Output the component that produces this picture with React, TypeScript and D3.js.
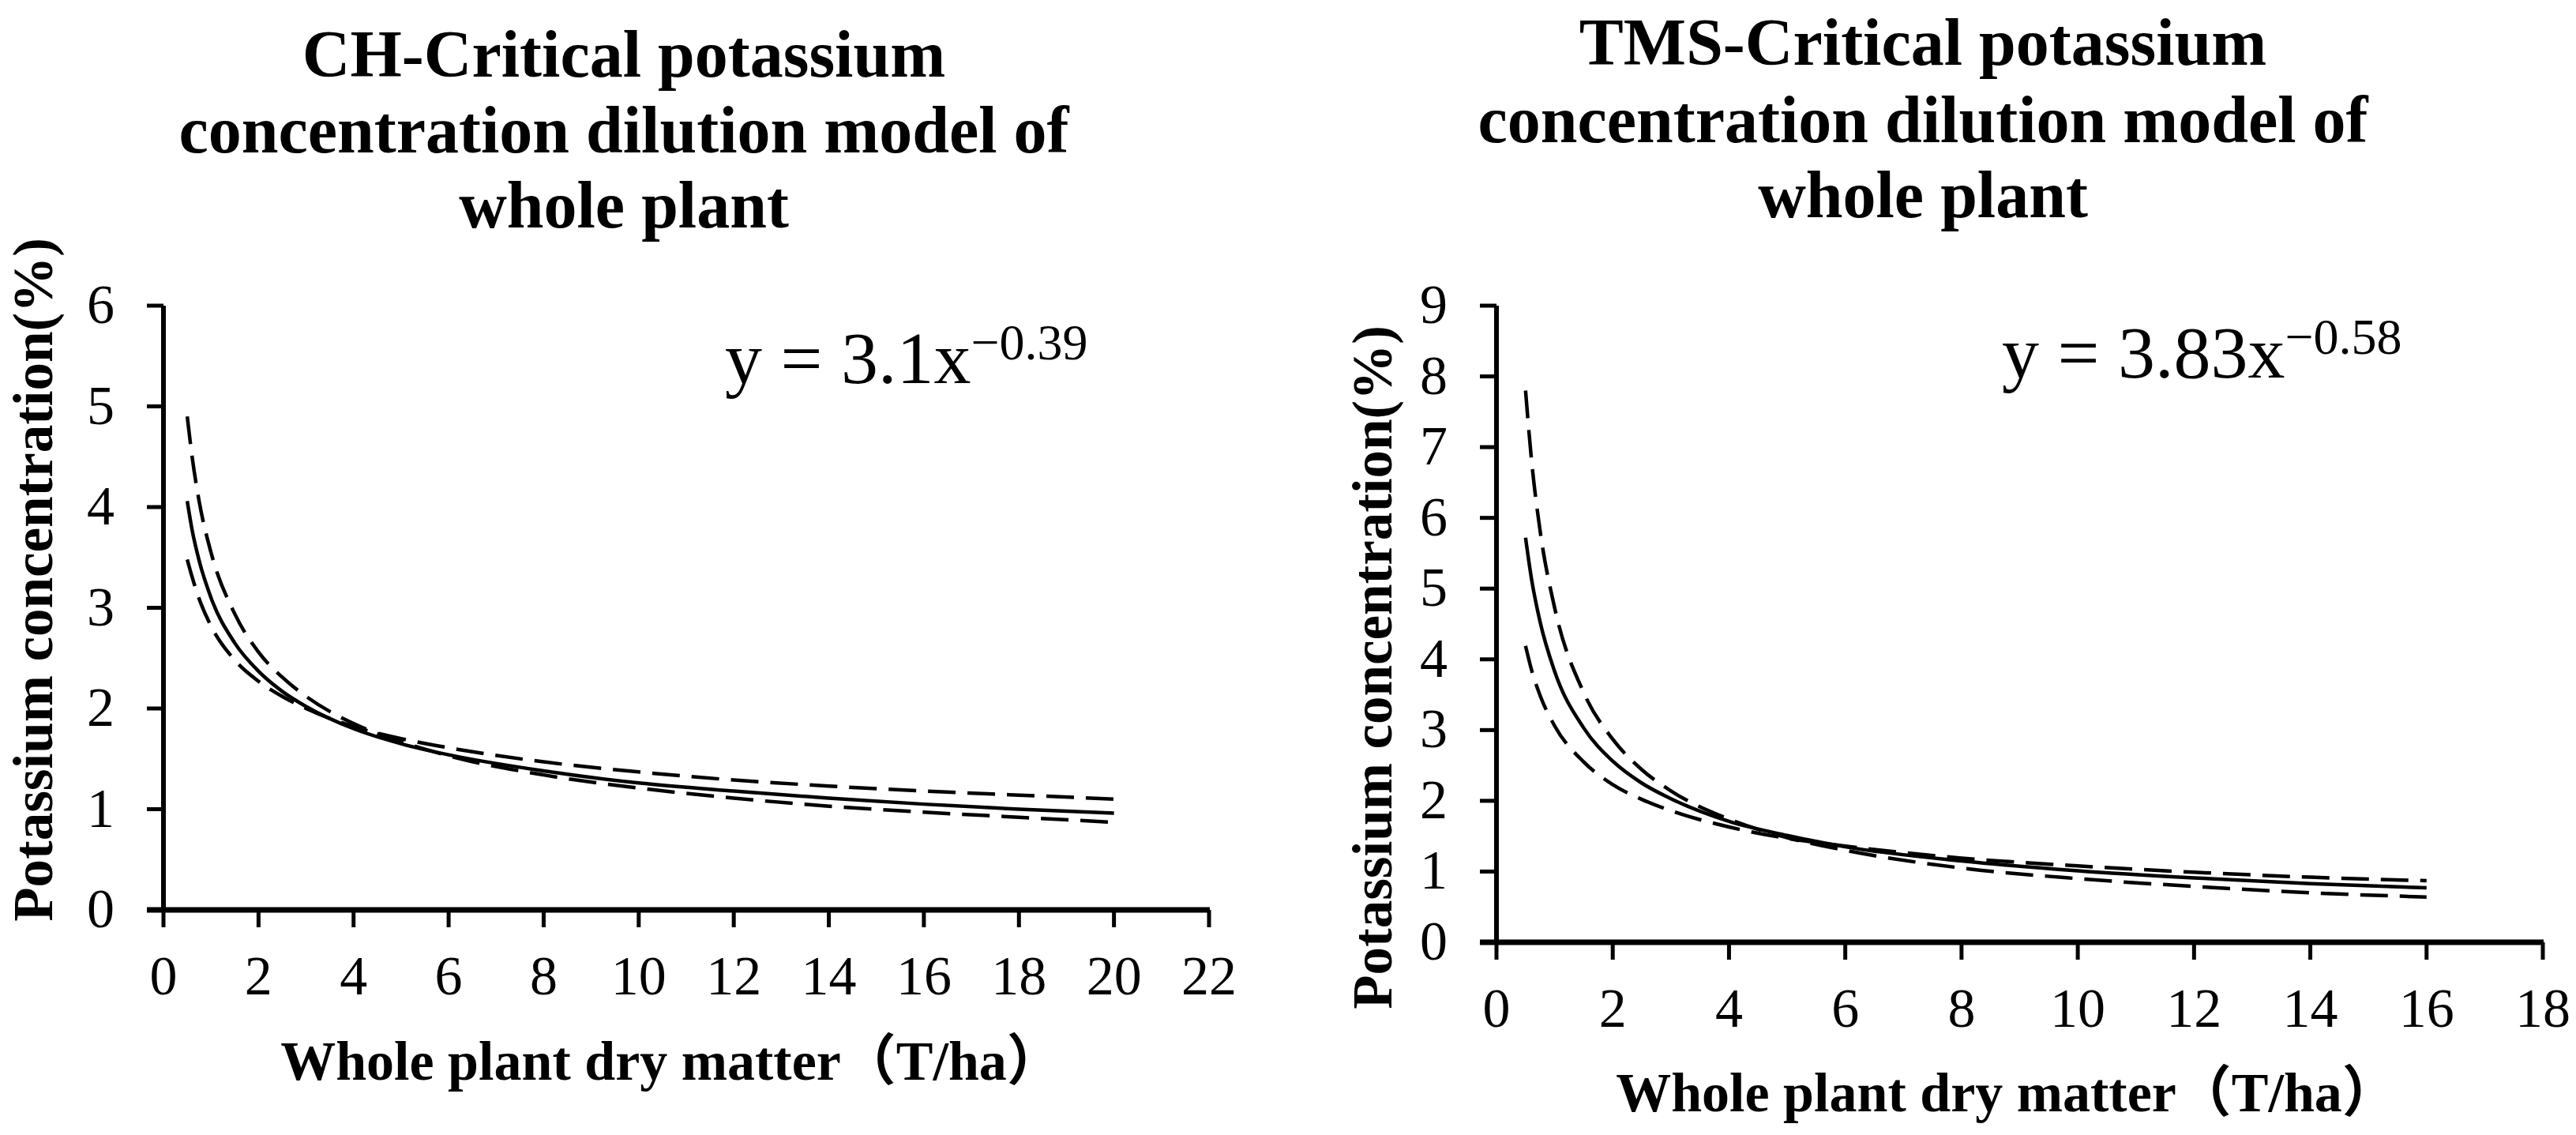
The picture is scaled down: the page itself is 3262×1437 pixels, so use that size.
import React from 'react';
import * as d3 from 'd3';

// ---------- data ----------
const X_CH = [0.5, 0.6, 0.75, 1, 1.5, 2, 2.5, 3, 4, 5, 6, 8, 10, 12, 14, 16, 18, 20];
const CH_CRITICAL = [4.06, 3.78, 3.47, 3.10, 2.65, 2.37, 2.17, 2.02, 1.80, 1.65, 1.54, 1.38, 1.26, 1.18, 1.11, 1.05, 1.00, 0.96];
const CH_BOUND_A = [4.90, 4.51, 4.06, 3.55, 2.94, 2.56, 2.31, 2.12, 1.85, 1.67, 1.53, 1.34, 1.21, 1.11, 1.03, 0.97, 0.92, 0.87];
const CH_BOUND_B = [3.48, 3.31, 3.09, 2.82, 2.48, 2.27, 2.12, 2.00, 1.82, 1.70, 1.61, 1.47, 1.37, 1.29, 1.23, 1.18, 1.14, 1.10];

const X_TMS = [0.5, 0.6, 0.75, 1, 1.5, 2, 2.5, 3, 4, 5, 6, 8, 10, 12, 14, 16];
const TMS_CRITICAL = [5.72, 5.15, 4.53, 3.83, 3.03, 2.56, 2.25, 2.03, 1.71, 1.51, 1.35, 1.15, 1.01, 0.91, 0.83, 0.77];
const TMS_BOUND_A = [7.80, 6.84, 5.82, 4.73, 3.53, 2.87, 2.44, 2.14, 1.74, 1.48, 1.30, 1.05, 0.90, 0.79, 0.70, 0.64];
const TMS_BOUND_B = [4.19, 3.86, 3.49, 3.06, 2.55, 2.23, 2.02, 1.86, 1.63, 1.47, 1.36, 1.19, 1.08, 0.99, 0.92, 0.87];

const X_TICKS_CH = [0, 2, 4, 6, 8, 10, 12, 14, 16, 18, 20, 22];
const Y_TICKS_CH = [0, 1, 2, 3, 4, 5, 6];
const X_TICKS_TMS = [0, 2, 4, 6, 8, 10, 12, 14, 16, 18];
const Y_TICKS_TMS = [0, 1, 2, 3, 4, 5, 6, 7, 8, 9];

const TITLE_CH = ['CH-Critical potassium', 'concentration dilution model of', 'whole plant'];
const TITLE_TMS = ['TMS-Critical potassium', 'concentration dilution model of', 'whole plant'];
const EQ_CH = ['y = 3.1x', '\u22120.39'];
const EQ_TMS = ['y = 3.83x', '\u22120.58'];
const X_LABEL = 'Whole plant dry matter\uFF08T/ha\uFF09';
const Y_LABEL = 'Potassium concentration(%)';

const SERIF = "'Liberation Serif', 'Times New Roman', 'Noto Sans CJK SC', serif";

type PanelProps = {
  xs: number[];
  crit: number[];
  bA: number[];
  bB: number[];
  xTicks: number[];
  yTicks: number[];
  title: string[];
  eq: string[];
  px0: number; px1: number; py0: number; py1: number;
  titleX: number; titleY: number[];
  eqX: number; eqY: number;
  xLabX: number; xLabY: number;
  yLabX: number; yLabY: number;
};

function Panel(p: PanelProps) {
  const xMax = p.xTicks[p.xTicks.length - 1];
  const yMax = p.yTicks[p.yTicks.length - 1];
  const x = d3.scaleLinear().domain([0, xMax]).range([p.px0, p.px1]);
  const y = d3.scaleLinear().domain([0, yMax]).range([p.py0, p.py1]);
  const line = d3
    .line<number>()
    .x((_, i) => x(p.xs[i]))
    .y((d) => y(d))
    .curve(d3.curveMonotoneX);
  const tick = 21;
  return (
    <g>
      {p.title.map((t, i) => (
        <text key={i} x={p.titleX} y={p.titleY[i]} textAnchor="middle" fontFamily={SERIF} fontWeight="bold" fontSize={84} fill="#000">
          {t}
        </text>
      ))}
      <text x={p.eqX} y={p.eqY} fontFamily={SERIF} fontSize={94} fill="#000">
        <tspan>{p.eq[0]}</tspan>
        <tspan fontSize={64} dy={-30}>{p.eq[1]}</tspan>
      </text>
      {/* axes */}
      <line x1={p.px0} x2={p.px0} y1={p.py1} y2={p.py0} stroke="#000" strokeWidth={6} />
      <line x1={p.px0 - tick} x2={p.px1 + 1} y1={p.py0} y2={p.py0} stroke="#000" strokeWidth={7} />
      {p.yTicks.map((t) => (
        <g key={'y' + t}>
          <line x1={p.px0 - tick} x2={p.px0} y1={y(t)} y2={y(t)} stroke="#000" strokeWidth={5} />
          <text x={p.px0 - 62} y={y(t) + 22} textAnchor="end" fontFamily={SERIF} fontSize={70} fill="#000">
            {t}
          </text>
        </g>
      ))}
      {p.xTicks.map((t) => (
        <g key={'x' + t}>
          <line x1={x(t)} x2={x(t)} y1={p.py0} y2={p.py0 + tick + 1} stroke="#000" strokeWidth={5} />
          <text x={x(t)} y={p.py0 + 107} textAnchor="middle" fontFamily={SERIF} fontSize={70} fill="#000">
            {t}
          </text>
        </g>
      ))}
      {/* curves */}
      <path d={line(p.bA) || ''} fill="none" stroke="#000" strokeWidth={4.5} strokeDasharray="35,15" />
      <path d={line(p.bB) || ''} fill="none" stroke="#000" strokeWidth={4.5} strokeDasharray="35,15" />
      <path d={line(p.crit) || ''} fill="none" stroke="#000" strokeWidth={4.5} />
      {/* labels */}
      <text x={p.xLabX} y={p.xLabY} textAnchor="middle" fontFamily={SERIF} fontWeight="bold" fontSize={70} fill="#000">
        {X_LABEL}
      </text>
      <text
        transform={`translate(${p.yLabX},${p.yLabY}) rotate(-90)`}
        textAnchor="middle"
        fontFamily={SERIF}
        fontWeight="bold"
        fontSize={71}
        fill="#000"
      >
        {Y_LABEL}
      </text>
    </g>
  );
}

export default function App() {
  return (
    <svg
      width={3262}
      height={1437}
      viewBox="0 0 3262 1437"
      style={{ position: 'absolute', left: 0, top: 0, background: '#fff' }}
    >
      <rect x={0} y={0} width={3262} height={1437} fill="#fff" />
      <Panel
        xs={X_CH}
        crit={CH_CRITICAL}
        bA={CH_BOUND_A}
        bB={CH_BOUND_B}
        xTicks={X_TICKS_CH}
        yTicks={Y_TICKS_CH}
        title={TITLE_CH}
        eq={EQ_CH}
        px0={207}
        px1={1531}
        py0={1152}
        py1={387}
        titleX={790}
        titleY={[97, 193, 288]}
        eqX={918}
        eqY={485}
        xLabX={850}
        xLabY={1367}
        yLabX={66}
        yLabY={734}
      />
      <Panel
        xs={X_TMS}
        crit={TMS_CRITICAL}
        bA={TMS_BOUND_A}
        bB={TMS_BOUND_B}
        xTicks={X_TICKS_TMS}
        yTicks={Y_TICKS_TMS}
        title={TITLE_TMS}
        eq={EQ_TMS}
        px0={1895}
        px1={3220}
        py0={1193}
        py1={387}
        titleX={2435}
        titleY={[82, 180, 275]}
        eqX={2535}
        eqY={478}
        xLabX={2541}
        xLabY={1407}
        yLabX={1762}
        yLabY={845}
      />
    </svg>
  );
}
